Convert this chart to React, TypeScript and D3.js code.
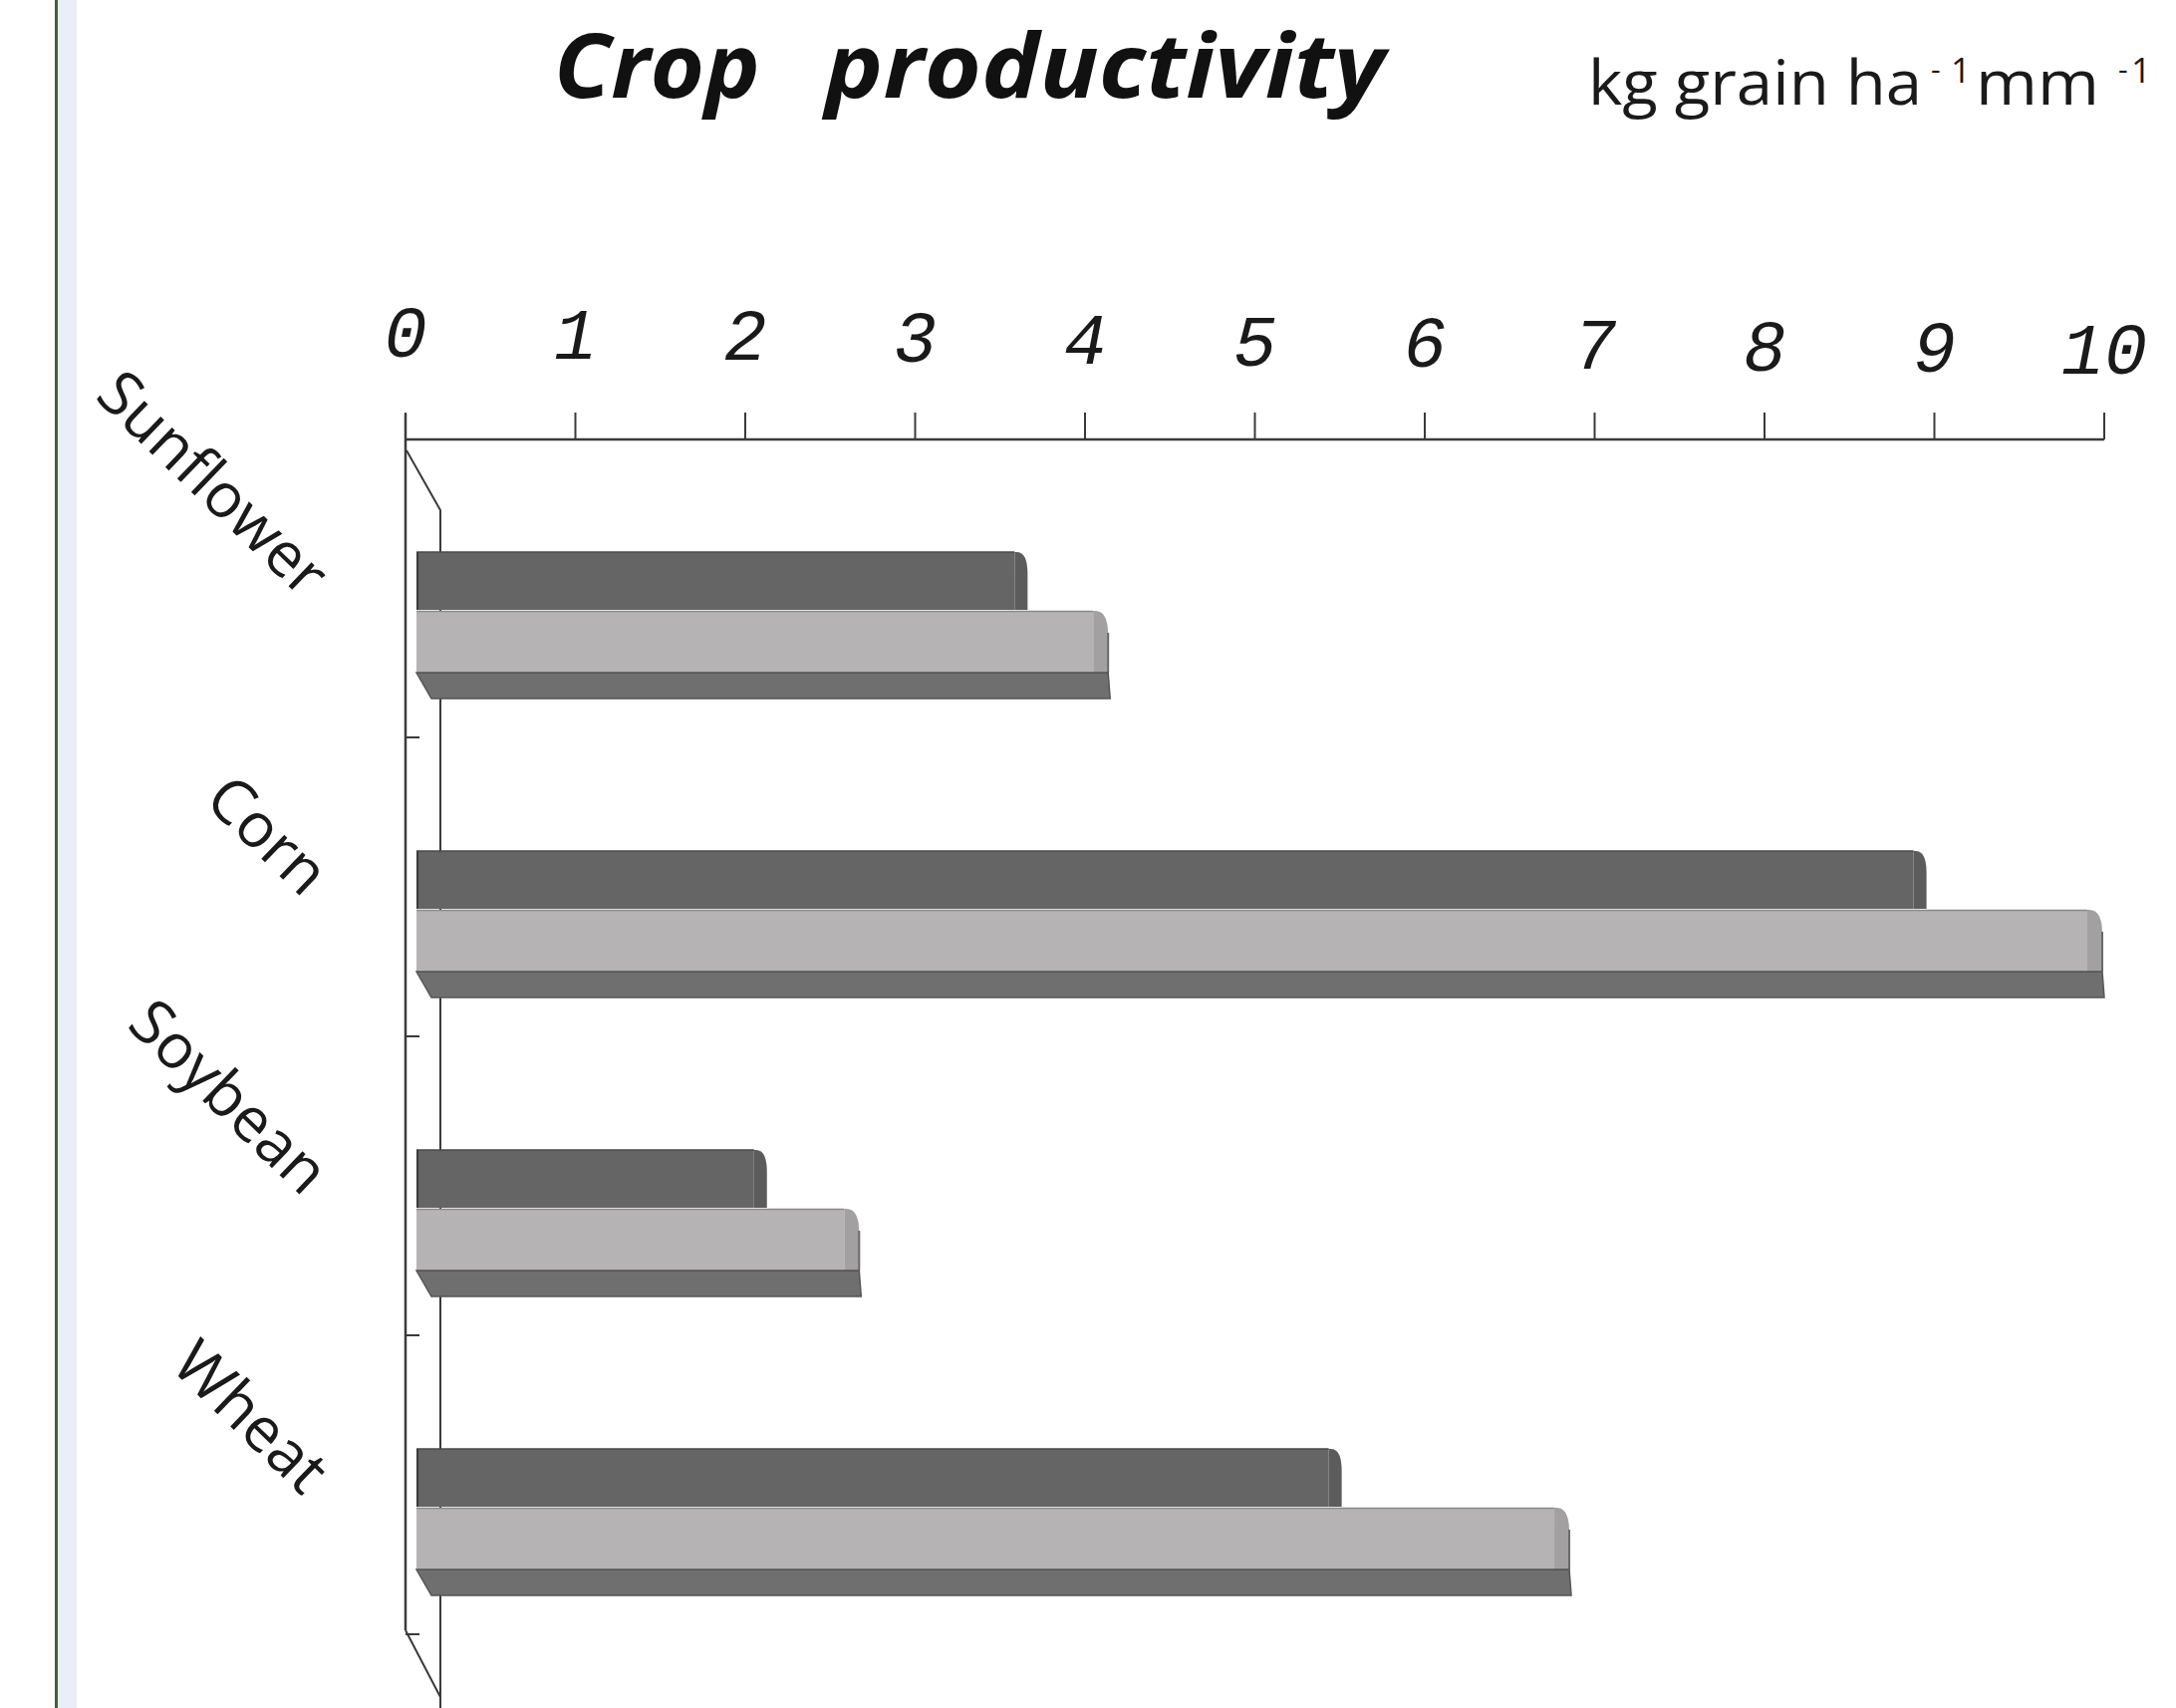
import * as d3 from 'd3';

const categories = ['Sunflower', 'Corn', 'Soybean', 'Wheat'];
// dark (back) series and light (front) series, kg grain / ha / mm
const darkValues = [3.58, 8.96, 2.02, 5.46];
const lightValues = [4.05, 10.0, 2.56, 6.81];
const tickValues = [0, 1, 2, 3, 4, 5, 6, 7, 8, 9, 10];

const W = 2184, H = 1714;

export default function App() {
  // the top axis sits on the back plane, the bar fronts are shifted a bit
  const xAxis = d3.scaleLinear().domain([0, 10]).range([407, 2112]);
  const xFront = d3.scaleLinear().domain([0, 10]).range([418, 2095]);
  const y = d3.scaleBand().domain(categories).range([440, 1640]).paddingInner(0);
  const axisY = 441;
  const x0 = xAxis(0);
  const fx0 = xFront(0);

  const darkFill = '#656565';
  const lightFill = '#b5b3b4';
  const stripFill = '#6f6f6f';
  const axisStroke = '#3a3a3a';

  const rows = categories.map((c, i) => {
    const b = y(c);
    return {
      name: c,
      band: b,
      dTop: b + 114, dBot: b + 172,
      lTop: b + 173, lBot: b + 235,
      sBot: b + 261,
      dEnd: xFront(darkValues[i]),
      lEnd: xFront(lightValues[i]),
    };
  });

  const sidePath = (xf, top, bot, w, rh) =>
    `M${xf},${top} L${xf + 2},${top} Q${xf + w},${top} ${xf + w},${top + rh} L${xf + w},${bot} L${xf},${bot} Z`;

  const sans = "'Open Sans', 'DejaVu Sans', sans-serif";

  return (
    <svg width={W} height={H} style={{ position: 'absolute', left: 0, top: 0, background: '#fff' }}>
      {/* page frame at the left */}
      <rect x={58} y={0} width={19} height={H} fill="#e9eef7" />
      <line x1={56.5} y1={0} x2={56.5} y2={H} stroke="#3f6330" strokeWidth={3} />

      {/* title */}
      <text x={556} y={98} fontFamily={sans} fontStyle="italic" fontWeight="bold"
        fontSize={90} fill="#111" textLength={207} lengthAdjust="spacingAndGlyphs">Crop</text>
      <text x={828} y={98} fontFamily={sans} fontStyle="italic" fontWeight="bold"
        fontSize={90} fill="#111" textLength={562} lengthAdjust="spacingAndGlyphs">productivity</text>

      {/* unit */}
      <g fontFamily={sans} fill="#1a1a1a">
        <text x={1594} y={105} fontSize={62} textLength={335} lengthAdjust="spacingAndGlyphs">kg grain ha</text>
        <text x={1938} y={80} fontSize={30}>-</text>
        <text x={1958} y={83} fontSize={35}>1</text>
        <text x={1983} y={105} fontSize={62} textLength={124} lengthAdjust="spacingAndGlyphs">mm</text>
        <text x={2126} y={80} fontSize={30}>-</text>
        <text x={2139} y={83} fontSize={35}>1</text>
      </g>

      {/* top value axis */}
      <line x1={x0} y1={axisY} x2={xAxis(10)} y2={axisY} stroke={axisStroke} strokeWidth={2.5} />
      {tickValues.map((t, i) => (
        <g key={t}>
          <line x1={xAxis(t)} y1={axisY} x2={xAxis(t)} y2={axisY - 27} stroke={axisStroke} strokeWidth={2} />
          <text x={xAxis(t)} y={358 + i * 1.7} textAnchor="middle" fontFamily="'Liberation Mono', 'DejaVu Sans Mono', monospace"
            fontStyle="italic" fontSize={72} fill="#1a1a1a">{t}</text>
        </g>
      ))}

      {/* left category axis (3D wall edges) */}
      <line x1={x0} y1={415} x2={x0} y2={1636} stroke={axisStroke} strokeWidth={2.5} />
      <polyline points={`${x0},1636 442,1703`} fill="none" stroke={axisStroke} strokeWidth={2} />
      <polyline points={`${x0 + 1},452 442,512 442,${H}`} fill="none" stroke={axisStroke} strokeWidth={2} />
      {rows.map(r => (
        <line key={'t' + r.name} x1={x0} y1={r.band + y.step()} x2={x0 + 14} y2={r.band + y.step()}
          stroke={axisStroke} strokeWidth={2} />
      ))}

      {/* bars */}
      {rows.map(r => (
        <g key={r.name}>
          {/* floor strip under the light bar */}
          <path d={`M${fx0},${r.lBot} L${r.lEnd + 15},${r.lBot} L${r.lEnd + 17},${r.sBot} L${fx0 + 15},${r.sBot} Z`}
            fill={stripFill} stroke="#555" strokeWidth={1.5} />
          <rect x={fx0} y={r.lTop} width={r.lEnd - fx0} height={r.lBot - r.lTop} fill={lightFill} />
          <line x1={fx0} y1={r.lTop + 0.5} x2={r.lEnd} y2={r.lTop + 0.5} stroke="#8a8a8a" strokeWidth={1.5} />
          <path d={sidePath(r.lEnd, r.lTop, r.lBot, 15, 24)} fill="#a2a0a1" />
          <line x1={r.lEnd + 15} y1={r.lTop + 22} x2={r.lEnd + 15} y2={r.lBot} stroke="#6a6a6a" strokeWidth={2} />
          <line x1={fx0} y1={r.lBot} x2={r.lEnd + 15} y2={r.lBot} stroke="#555" strokeWidth={1.5} />

          <rect x={fx0} y={r.dTop} width={r.dEnd - fx0} height={r.dBot - r.dTop} fill={darkFill} />
          <path d={sidePath(r.dEnd, r.dTop, r.dBot, 13, 22)} fill="#5c5c5c" />
          <line x1={fx0} y1={r.dTop} x2={r.dEnd} y2={r.dTop} stroke="#4a4a4a" strokeWidth={1.5} />
          <line x1={fx0 + 1} y1={r.dTop} x2={fx0 + 1} y2={r.dBot} stroke="#3a3a3a" strokeWidth={2} />
        </g>
      ))}

      {/* category labels, rotated */}
      {rows.map(r => (
        <text key={'l' + r.name} transform={`translate(304,${r.band + 162}) rotate(44)`} textAnchor="end"
          fontFamily={sans} fontSize={62} fill="#1a1a1a">{r.name}</text>
      ))}
    </svg>
  );
}
